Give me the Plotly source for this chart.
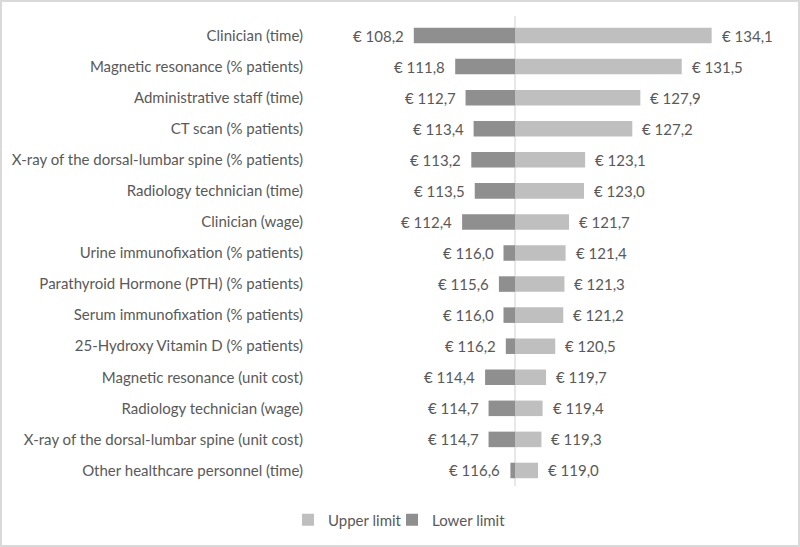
import plotly.graph_objects as go

categories = [
    "Clinician (time)",
    "Magnetic resonance (% patients)",
    "Administrative staff (time)",
    "CT scan (% patients)",
    "X-ray of the dorsal-lumbar spine (% patients)",
    "Radiology technician (time)",
    "Clinician (wage)",
    "Urine immunofixation (% patients)",
    "Parathyroid Hormone (PTH) (% patients)",
    "Serum immunofixation (% patients)",
    "25-Hydroxy Vitamin D (% patients)",
    "Magnetic resonance (unit cost)",
    "Radiology technician (wage)",
    "X-ray of the dorsal-lumbar spine (unit cost)",
    "Other healthcare personnel (time)",
]
lower_limit = [108.2, 111.8, 112.7, 113.4, 113.2, 113.5, 112.4, 116.0, 115.6, 116.0, 116.2, 114.4, 114.7, 114.7, 116.6]
upper_limit = [134.1, 131.5, 127.9, 127.2, 123.1, 123.0, 121.7, 121.4, 121.3, 121.2, 120.5, 119.7, 119.4, 119.3, 119.0]
base_value = 117.0

UPPER_COLOR = "#bfbfbf"
LOWER_COLOR = "#8f8f8f"
TEXT_COLOR = "#595959"
FONT = "Lato"
FS = 15

W, H = 800, 547
L, R, T, B = 310, 10, 20, 61
pw, ph = W - L - R, H - T - B
px_per_unit = 11.5
center_px = 515 - L
x_min = base_value - center_px / px_per_unit
x_max = base_value + (pw - center_px) / px_per_unit

def fmt(v):
    return "€ " + f"{v:.1f}".replace(".", ",")

fig = go.Figure()
fig.add_trace(go.Bar(
    y=categories, x=[u - base_value for u in upper_limit], base=base_value,
    orientation="h", name="Upper limit", marker_color=UPPER_COLOR,
    marker_line_width=0, hoverinfo="skip", legend="legend",
))
fig.add_trace(go.Bar(
    y=categories, x=[l - base_value for l in lower_limit], base=base_value,
    orientation="h", name="Lower limit", marker_color=LOWER_COLOR,
    marker_line_width=0, hoverinfo="skip", legend="legend2",
))

annotations = []
for c, lo, up in zip(categories, lower_limit, upper_limit):
    annotations.append(dict(x=lo, y=c, xref="x", yref="y", text=fmt(lo), showarrow=False,
                            xanchor="right", xshift=-8, font=dict(size=FS, color=TEXT_COLOR, family=FONT)))
    annotations.append(dict(x=up, y=c, xref="x", yref="y", text=fmt(up), showarrow=False,
                            xanchor="left", xshift=8, font=dict(size=FS, color=TEXT_COLOR, family=FONT)))

shapes = [
    dict(type="line", xref="x", yref="paper", x0=base_value, x1=base_value,
         y0=0, y1=1 + 4 / ph, line=dict(color="#d9d9d9", width=1.2), layer="below"),
    dict(type="rect", xref="paper", yref="paper",
         x0=(1 - L) / pw, x1=(W - 1 - L) / pw,
         y0=-(B - 1) / ph, y1=1 + (T - 1) / ph,
         line=dict(color="#d9d9d9", width=2), fillcolor="rgba(0,0,0,0)"),
]

legend_y = -(520 - T - ph) / ph
legend_style = dict(orientation="h", xanchor="left", y=legend_y, yanchor="middle",
                    font=dict(size=FS, color=TEXT_COLOR, family=FONT), itemwidth=30,
                    bgcolor="rgba(0,0,0,0)")

fig.update_layout(
    width=W, height=H,
    margin=dict(l=L, r=R, t=T, b=B, autoexpand=False),
    paper_bgcolor="white", plot_bgcolor="white",
    barmode="overlay", bargap=0.5,
    font=dict(family=FONT, size=FS, color=TEXT_COLOR),
    xaxis=dict(range=[x_min, x_max], visible=False, showgrid=False, zeroline=False),
    yaxis=dict(categoryorder="array", categoryarray=categories, autorange="reversed",
               showgrid=False, zeroline=False, showline=False, ticks="", automargin=False,
               ticklabelstandoff=6, tickfont=dict(size=FS, color=TEXT_COLOR, family=FONT)),
    legend=dict(x=(288 - L) / pw, **legend_style),
    legend2=dict(x=(392 - L) / pw, **legend_style),
    annotations=annotations,
    shapes=shapes,
    showlegend=True,
)

fig.write_html("out.html", config={"displayModeBar": False},
               post_script="document.body.style.margin='0';document.body.style.overflow='hidden';")
